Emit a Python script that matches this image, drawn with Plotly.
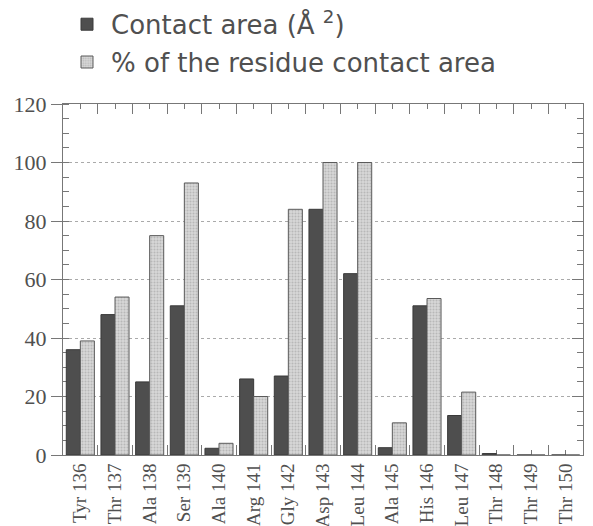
import plotly.graph_objects as go

categories = ["Tyr 136", "Thr 137", "Ala 138", "Ser 139", "Ala 140", "Arg 141", "Gly 142",
              "Asp 143", "Leu 144", "Ala 145", "His 146", "Leu 147", "Thr 148", "Thr 149", "Thr 150"]
contact_area = [36, 48, 25, 51, 2.3, 26, 27, 84, 62, 2.5, 51, 13.5, 0.5, 0, 0]
pct_residue = [39, 54, 75, 93, 4, 20, 84, 100, 100, 11, 53.5, 21.5, 0, 0, 0]
y_ticks = [0, 20, 40, 60, 80, 100, 120]

positions = list(range(len(categories)))
TXT = "#505050"

fig = go.Figure()
fig.add_trace(go.Bar(
    x=positions, y=contact_area, name="Contact area (Å <sup>2</sup>)",
    marker=dict(color="#4e4e4e", line=dict(color="#3a3a3a", width=1)),
    legendgroup="a",
))
fig.add_trace(go.Bar(
    x=positions, y=pct_residue, name="% of the residue contact area",
    marker=dict(color="#cfcfcf", line=dict(color="#5a5a5a", width=1),
                pattern=dict(shape=".", fgcolor="#9a9a9a", bgcolor="#d6d6d6", size=3, solidity=0.35)),
    legendgroup="b",
))
# invisible helper trace for the right-hand tick axis
fig.add_trace(go.Scatter(x=[positions[0]], y=[0], yaxis="y2", mode="markers",
                         marker=dict(opacity=0), showlegend=False, hoverinfo="skip"))

fig.update_layout(
    width=585, height=518,
    margin=dict(l=55, r=10, t=96, b=71, autoexpand=False),
    paper_bgcolor="white", plot_bgcolor="white",
    barmode="group", bargap=0.19, bargroupgap=0.0,
    showlegend=True,
    legend=dict(x=0.0, y=1.294, xref="paper", yref="paper", xanchor="left", yanchor="top",
                font=dict(family="DejaVu Sans", size=26, color=TXT),
                itemwidth=38,
                tracegroupgap=1, bgcolor="rgba(0,0,0,0)"),
    xaxis=dict(
        range=[-0.5, len(categories) - 0.5],
        tickmode="array", tickvals=positions, ticktext=categories,
        tickangle=-90,
        tickfont=dict(family="Liberation Serif", size=19, color=TXT),
        ticks="inside", ticklen=5, tickcolor="#777", tickwidth=1,
        minor=dict(tick0=-0.5, dtick=1, ticks="inside", ticklen=10, tickcolor="#777", tickwidth=1),
        showline=True, linecolor="#777", linewidth=1, mirror="allticks",
        showgrid=False, zeroline=False, layer="below traces",
    ),
    yaxis=dict(
        range=[0, 120], tickmode="array", tickvals=y_ticks,
        tickfont=dict(family="Liberation Serif", size=22, color=TXT),
        ticks="outside", ticklen=11, tickcolor="#777", tickwidth=1,
        minor=dict(dtick=5, tick0=0, ticks="inside", ticklen=6, tickcolor="#777", tickwidth=1),
        showline=True, linecolor="#777", linewidth=1, mirror=True,
        showgrid=True, gridcolor="#aaaaaa", griddash="dot", gridwidth=1,
        zeroline=False, layer="below traces",
    ),
    yaxis2=dict(
        range=[0, 120], overlaying="y", side="right", tickmode="array", tickvals=y_ticks,
        showticklabels=False, ticks="inside", ticklen=11, tickcolor="#777", tickwidth=1,
        minor=dict(dtick=5, tick0=0, ticks="inside", ticklen=6, tickcolor="#777", tickwidth=1),
        showgrid=False, zeroline=False, showline=False,
    ),
)

fig.write_html("out.html")
